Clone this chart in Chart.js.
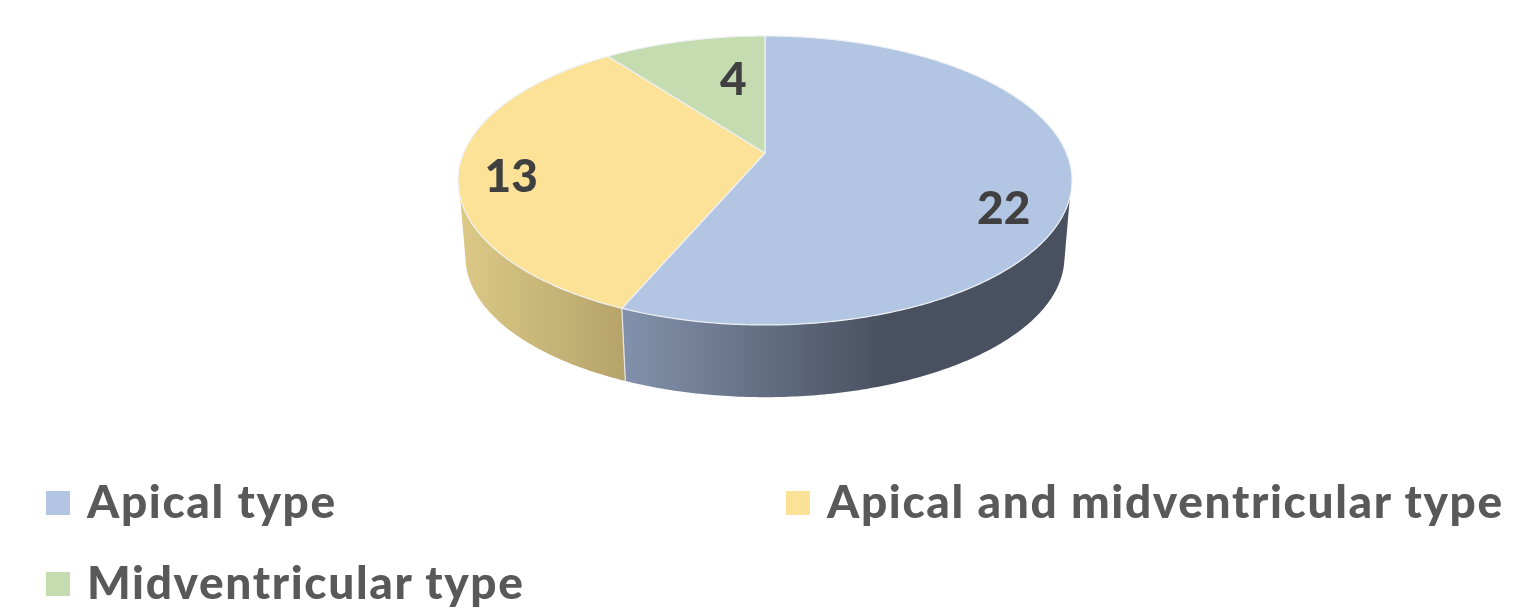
<!DOCTYPE html>
<html>
<head>
<meta charset="utf-8">
<title>Pie</title>
<script src="https://cdn.jsdelivr.net/npm/chart.js@4"></script>
<style>
    html, body { margin: 0; padding: 0; background: #fff; overflow: hidden; }
    #wrap { position: relative; width: 1536px; height: 609px; }
    #chart { position: absolute; left: 0; top: 0; }
    #legend {
        position: absolute; left: 46px; top: 462px;
        display: grid; grid-template-columns: 740px auto; grid-auto-rows: 81px;
        font: 900 46px Lato, sans-serif; color: #595959;
    }
    #legend div { display: flex; align-items: center; white-space: nowrap; }
    #legend span { display: inline-block; width: 24px; height: 24px; margin-right: 17px; }
    #legend b { font-weight: inherit; position: relative; top: -2px; letter-spacing: 1.65px; }
</style>
</head>
<body>
<div id="wrap">
    <canvas id="chart" width="1536" height="609"></canvas>
    <div id="legend"></div>
</div>
<script>
const categories = ["Apical type", "Apical and midventricular type", "Midventricular type"];
const values = [22, 13, 4];

const topColors = ["#b2c5e2", "#fbe297", "#c5dcb1"];
const wallStops = [
    [[626, "#8291ab"], [885, "#495060"]],
    [[460, "#dcc987"], [625, "#b5a36b"]],
    [[0, "#000"], [1, "#000"]]
];
const labelNudge = [[-5, 33], [-10, 10], [35, 20]];

// the library only gives the slice angles, tilt is done by hand here
const tilt = 0.19;
const topFace = { cx: 765, cy: 153, a: 301.4, b: 139.3 };
const bottomFace = { cx: 765, cy: 230.5, a: 294, b: 135 };

function project(face, angle, r) {
    const u = Math.cos(angle) * r;
    const v = Math.sin(angle) * r;
    const k = 1 - tilt * v;
    return [face.cx + face.a * u / k, face.cy + face.b * v / k];
}

function rim(face, from, to) {
    const pts = [];
    const steps = Math.max(2, Math.ceil(Math.abs(to - from) * 90));
    for (let i = 0; i <= steps; i++) {
        pts.push(project(face, from + (to - from) * i / steps, 1));
    }
    return pts;
}

const tiltedPie = {
    id: 'tiltedPie',
    beforeDatasetsDraw(chart) {
        const ctx = chart.ctx;
        const arcs = chart.getDatasetMeta(0).data;

        // side wall, only the part facing the viewer
        arcs.forEach((arc, i) => {
            const topFrom = Math.max(arc.startAngle, 0.305);
            const topTo = Math.min(arc.endAngle, 2.836);
            if (topFrom >= topTo) return;
            const botFrom = Math.max(arc.startAngle, 0.22);
            const botTo = Math.min(arc.endAngle, 2.92);
            const pts = rim(topFace, topFrom, topTo).concat(rim(bottomFace, botFrom, botTo).reverse());
            const grad = ctx.createLinearGradient(wallStops[i][0][0], 0, wallStops[i][1][0], 0);
            grad.addColorStop(0, wallStops[i][0][1]);
            grad.addColorStop(1, wallStops[i][1][1]);
            ctx.beginPath();
            pts.forEach((p, j) => j ? ctx.lineTo(p[0], p[1]) : ctx.moveTo(p[0], p[1]));
            ctx.closePath();
            ctx.fillStyle = grad;
            ctx.fill();
        });

        // light seam between the two walls
        const seamAngle = arcs[0].endAngle;
        const s0 = project(topFace, seamAngle, 1);
        const s1 = project(bottomFace, seamAngle, 1);
        ctx.beginPath();
        ctx.moveTo(s0[0], s0[1]);
        ctx.lineTo(s1[0], s1[1]);
        ctx.strokeStyle = "#e8e8e8";
        ctx.lineWidth = 1.2;
        ctx.stroke();

        // top face
        arcs.forEach((arc, i) => {
            const pts = rim(topFace, arc.startAngle, arc.endAngle);
            ctx.beginPath();
            ctx.moveTo(topFace.cx, topFace.cy);
            pts.forEach(p => ctx.lineTo(p[0], p[1]));
            ctx.closePath();
            ctx.fillStyle = topColors[i];
            ctx.fill();
            ctx.strokeStyle = "#eef1f4";
            ctx.lineWidth = 1.2;
            ctx.lineJoin = "round";
            ctx.stroke();
        });

        // value labels
        ctx.font = "900 46px Lato, sans-serif";
        ctx.fillStyle = "#404040";
        ctx.textAlign = "center";
        ctx.textBaseline = "middle";
        arcs.forEach((arc, i) => {
            const mid = (arc.startAngle + arc.endAngle) / 2;
            const p = project(topFace, mid, 0.8);
            ctx.fillText(String(values[i]), p[0] + labelNudge[i][0], p[1] + labelNudge[i][1]);
        });
        return false;
    }
};

new Chart(document.getElementById('chart'), {
    type: 'pie',
    data: {
        labels: categories,
        datasets: [{ data: values, backgroundColor: topColors }]
    },
    options: {
        responsive: false,
        animation: false,
        devicePixelRatio: 1,
        plugins: {
            legend: { display: false },
            tooltip: { enabled: false }
        }
    },
    plugins: [tiltedPie]
});

const legendBox = document.getElementById('legend');
categories.forEach((name, i) => {
    legendBox.innerHTML += `<div><span style="background:${topColors[i]}"></span><b>${name}</b></div>`;
});
</script>
</body>
</html>
